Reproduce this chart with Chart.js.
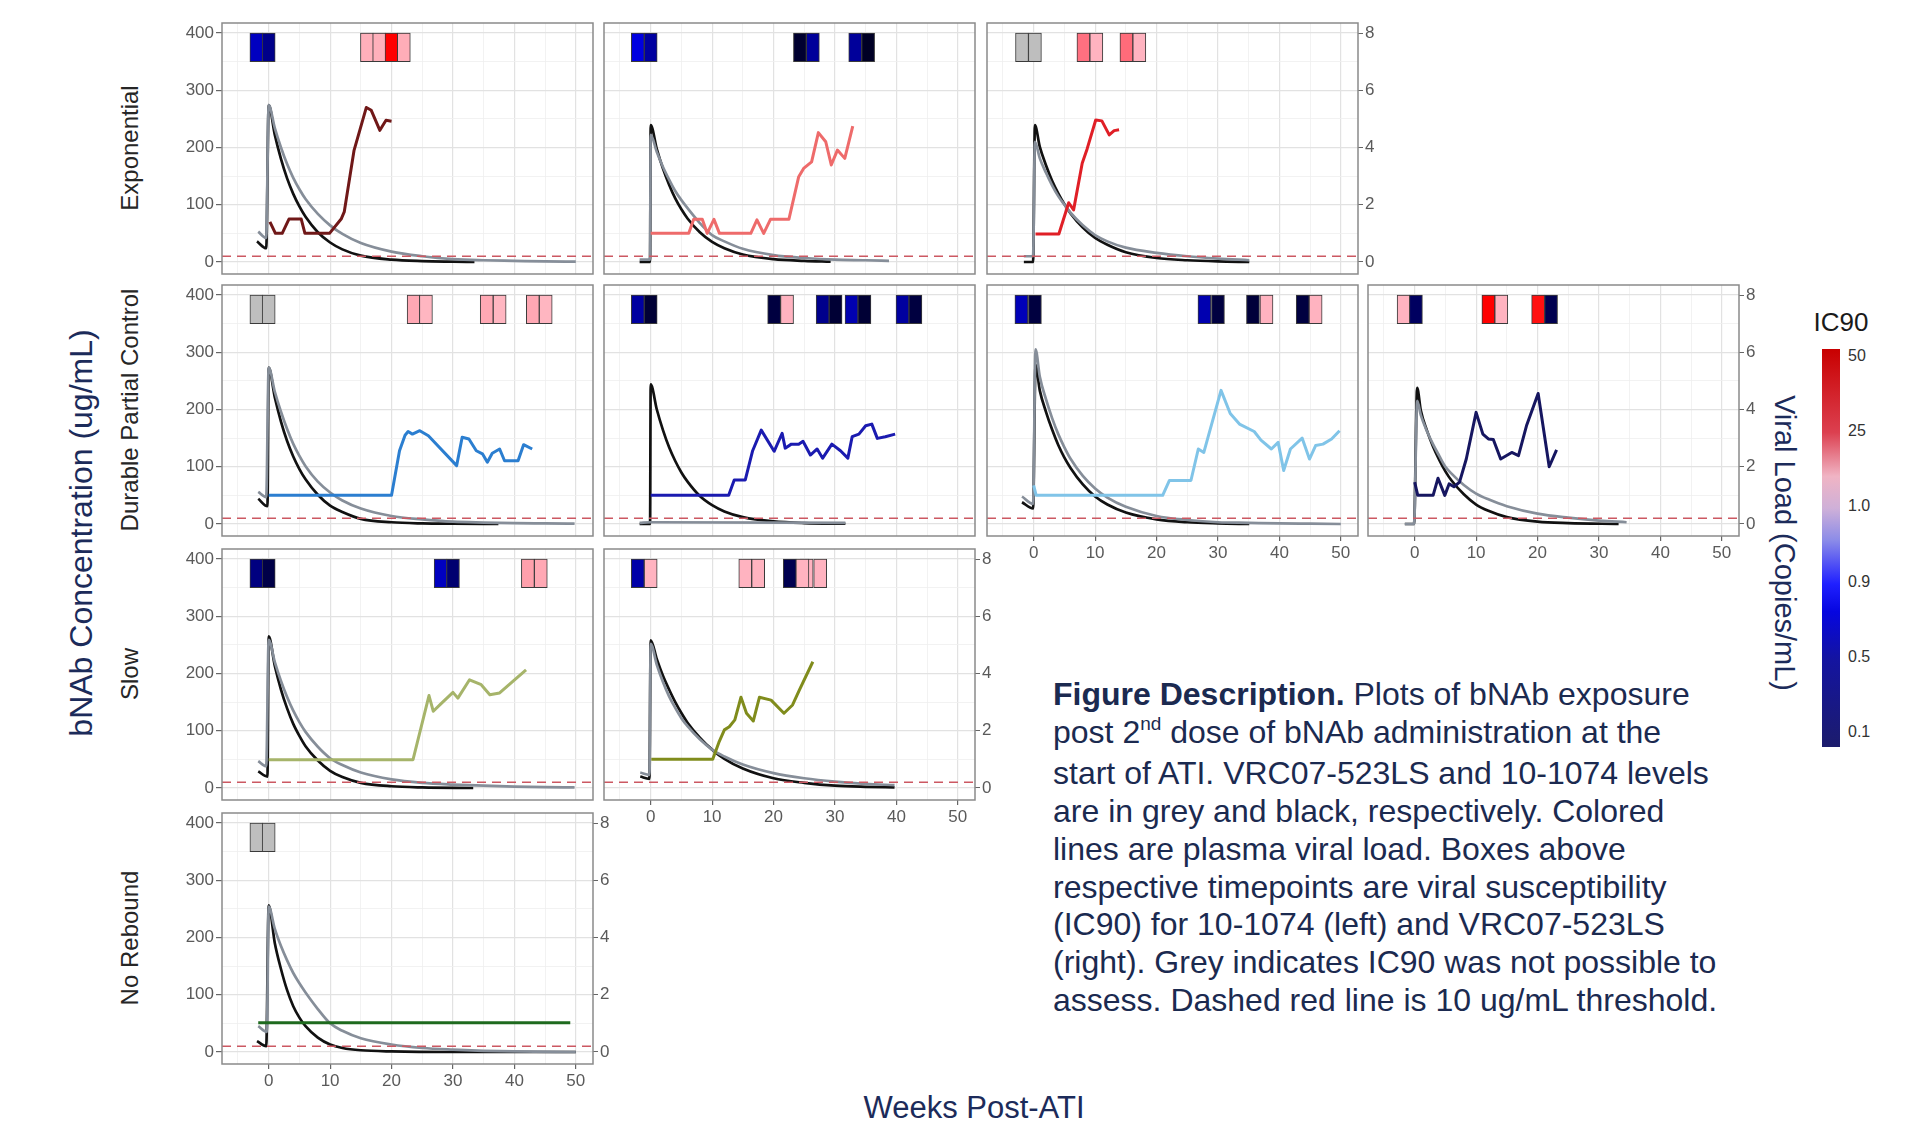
<!DOCTYPE html>
<html lang="en">
<head>
<meta charset="UTF-8">
<title>bNAb exposure and viral load after ATI</title>
<script src="https://cdn.jsdelivr.net/npm/chart.js"></script>
<style>
  body { margin: 0; background: #fff; font-family: "Liberation Sans", Arial, sans-serif; }
  #page { position: relative; width: 1918px; height: 1122px; overflow: hidden; background: #fff; }
  #page canvas { position: absolute; }
  .txt { position: absolute; white-space: nowrap; line-height: 1; }
  .rotL { transform: translate(-50%, -50%) rotate(-90deg); }
  .rotR { transform: translate(-50%, -50%) rotate(90deg); }
  .strip { font-size: 24px; color: #262626; }
  .navy { color: #1c2b5a; }
  #desc { position: absolute; left: 1053px; top: 676px; font-size: 32px; line-height: 37.7px;
          color: #1b2a50; white-space: nowrap; }
  #desc .sup { font-size: 19px; position: relative; top: -13px; }
  #ic90bar { position: absolute; left: 1822px; top: 349px; width: 18px; height: 398px;
             background: linear-gradient(to bottom, #c80000 0%, #dc4050 21%, #f0b4c4 32%, #cfb0d8 40%,
             #8c8ce8 48%, #2020ff 59%, #0606e0 66%, #1414a0 78%, #1c1c6c 100%); }
  .ic90lab { position: absolute; left: 1848px; font-size: 16px; color: #333; transform: translateY(-50%); line-height: 1; }
</style>
</head>
<body>
<div id="page">
  <div class="txt strip rotL" style="left:130px; top:148px;">Exponential</div>
  <div class="txt strip rotL" style="left:130px; top:410px;">Durable Partial Control</div>
  <div class="txt strip rotL" style="left:130px; top:674px;">Slow</div>
  <div class="txt strip rotL" style="left:130px; top:938px;">No Rebound</div>

  <div class="txt navy rotL" style="left:81px; top:533px; font-size:32px;">bNAb Concentration (ug/mL)</div>
  <div class="txt navy rotR" style="left:1784px; top:543px; font-size:29px;">Viral Load (Copies/mL)</div>
  <div class="txt navy" style="left:974px; top:1092px; font-size:31px; transform:translateX(-50%);">Weeks Post-ATI</div>

  <div class="txt" style="left:1841px; top:322px; font-size:26px; color:#1a1a1a; transform:translate(-50%,-50%);">IC90</div>
  <div id="ic90bar"></div>

  <div id="desc">
    <b>Figure Description.</b> Plots of bNAb exposure<br>
    post 2<span class="sup">nd</span> dose of bNAb administration at the<br>
    start of ATI. VRC07-523LS and 10-1074 levels<br>
    are in grey and black, respectively. Colored<br>
    lines are plasma viral load. Boxes above<br>
    respective timepoints are viral susceptibility<br>
    (IC90) for 10-1074 (left) and VRC07-523LS<br>
    (right). Grey indicates IC90 was not possible to<br>
    assess. Dashed red line is 10 ug/mL threshold.
  </div>
</div>

<script>
  // axis settings (weeks, ug/mL, log10 copies/mL)
  const xMin = -7.6, xMax = 52.8;
  const yMin = -21, yMax = 417.5;
  const vlScale = 50;            // 8 log copies on the right = 400 ug/mL on the left
  const xGridWeeks = [-5, 0, 5, 10, 15, 20, 25, 30, 35, 40, 45, 50];
  const yGridValues = [0, 50, 100, 150, 200, 250, 300, 350, 400];
  const vlTicks = [0, 2, 4, 6, 8];
  const threshold = 10;
  const boxLow = 350, boxHigh = 400;
  const ic90Labels = ['50', '25', '1.0', '0.9', '0.5', '0.1'];

  // ---- Exponential ----
  const p1Grey = [[-1.7,53],[-0.4,42],[0,274],[1,234],[2,200],[3,171],[4,147],[5,127],[6,110],[8,84],[10,64],[12,49],[15,33],[20,18],[25,10],[30,5],[35,3],[40,2],[45,1],[50,0.5]];
  const p1Black = [[-1.9,36],[-0.4,24],[0,274],[1,222],[2,180],[3,146],[4,119],[5,97],[6,79],[8,52],[10,34],[12,22],[15,11],[20,4],[25,1.5],[30,0.5],[33.5,0]];
  const p1Vl = [[0.2,1.4],[1.1,1.0],[2.2,1.0],[3.3,1.5],[5.3,1.5],[5.9,1.0],[9.9,1.0],[11.8,1.5],[12.3,1.75],[13.9,3.9],[15.9,5.4],[16.7,5.3],[18.1,4.6],[19.1,4.95],[20.0,4.92]];
  const p1BoxX = [-2, 0, 16, 18, 20, 22];
  const p1BoxColor = ['#0000c0', '#00008a', '#ffb0bb', '#ffb0bb', '#ff0000', '#ffadb8'];

  const p2Grey = [[-1.8,4],[-0.1,4],[0,222],[1,192],[2,166],[3,144],[4,124],[5,108],[6,94],[8,68],[10,47],[12,36],[15,23],[20,12],[25,7],[30,4],[35,3],[38.8,2]];
  const p2Black = [[-1.8,0],[-0.1,0],[0,239],[1,197],[2,163],[3,135],[4,111],[5,92],[6,76],[8,52],[10,35],[12,24],[15,13],[20,5],[25,2],[29.3,0.5]];
  const p2Vl = [[0,1.0],[6.2,1.0],[7.0,1.49],[8.4,1.49],[9.2,1.0],[10.3,1.49],[11.2,1.0],[16.3,1.0],[17.3,1.47],[18.4,1.0],[19.5,1.49],[22.5,1.49],[24.1,2.98],[24.9,3.27],[26.2,3.5],[27.3,4.52],[28.5,4.2],[29.4,3.39],[30.4,3.91],[31.6,3.62],[32.9,4.75]];
  const p2BoxX = [-2.1, 0, 24.3, 26.4, 33.3, 35.4];
  const p2BoxColor = ['#0000e0', '#0000a0', '#000030', '#00009a', '#00009a', '#000025'];

  const p3Grey = [[-1.6,10],[-0.1,10],[0.2,210],[1,181],[2,156],[3,134],[4,115],[5,100],[6,86],[8,64],[10,47],[12,36],[15,25],[20,16],[25,10],[30,6],[35.1,3]];
  const p3Black = [[-1.6,0],[-0.1,0],[0.2,239],[1,201],[2,169],[3,142],[4,120],[5,101],[6,85],[8,60],[10,42],[12,30],[15,17],[20,7],[25,3],[30,1],[35.1,0]];
  const p3Vl = [[0.3,0.98],[4.1,0.98],[5.7,2.07],[6.5,1.82],[7.9,3.45],[8.7,3.95],[10.1,4.96],[11.1,4.93],[12.3,4.44],[13.1,4.59],[13.9,4.62]];
  const p3BoxX = [-1.9, 0.2, 8.1, 10.2, 15.1, 17.2];
  const p3BoxColor = ['#bebebe', '#bebebe', '#ff7080', '#ffb3c0', '#ff6b7a', '#ffb3c0'];

  // ---- Durable Partial Control ----
  const p4Grey = [[-1.7,56],[-0.4,47],[0,273],[1,231],[2,196],[3,166],[4,140],[5,119],[6,101],[8,74],[10,55],[12,41],[15,27],[20,14],[25,8],[30,4],[35,2.5],[40,1.5],[45,1],[49.8,0.5]];
  const p4Black = [[-1.7,44],[-0.2,31],[0,273],[1,221],[2,179],[3,145],[4,118],[5,96],[6,78],[8,51],[10,32],[12,21],[15,9],[20,3],[25,1],[30,0.4],[37.4,0]];
  const p4Vl = [[0,1.0],[20,1.0],[21.3,2.56],[22.2,3.1],[22.7,3.23],[23.4,3.14],[24.6,3.26],[26,3.08],[30.6,2.04],[31.5,3.03],[32.6,2.97],[33.8,2.56],[34.8,2.45],[35.6,2.16],[36.4,2.47],[37.6,2.62],[38.4,2.21],[40.6,2.21],[41.5,2.77],[42.9,2.62]];
  const p4BoxX = [-2, 0, 23.6, 25.6, 35.5, 37.6, 43.0, 45.1];
  const p4BoxColor = ['#bebebe', '#bebebe', '#ffa8b4', '#ffb6c1', '#ffa8b4', '#ffb6c1', '#ffa8b4', '#ffb6c1'];

  const p5Grey = [[-1.8,2],[0,3],[31.7,2]];
  const p5Black = [[-1.8,0],[-0.1,0],[0,244],[1,200],[2,164],[3,134],[4,110],[5,90],[6,74],[8,49],[10,33],[12,22],[15,12],[20,4.5],[25,1.6],[31.7,0.4]];
  const p5Vl = [[0,1.0],[12.7,1.0],[13.6,1.54],[15.4,1.54],[16.6,2.56],[18.0,3.28],[20.1,2.54],[21.4,3.17],[21.9,2.65],[22.9,2.79],[24.1,2.79],[24.8,2.89],[26.0,2.41],[27.1,2.62],[28.0,2.3],[29.5,2.79],[30.9,2.56],[32.1,2.3],[32.8,3.05],[33.9,3.14],[35.0,3.43],[36.0,3.49],[36.9,2.99],[38.2,3.05],[39.8,3.14]];
  const p5BoxX = [-2.1, 0, 20.1, 22.2, 28.0, 30.1, 32.7, 34.8, 41.0, 43.1];
  const p5BoxColor = ['#0000a0', '#000035', '#000040', '#ffb3c0', '#00008c', '#000035', '#0000b0', '#000035', '#0000a0', '#000040'];

  const p6Grey = [[-1.9,48],[-0.1,35],[0.3,305],[1,257],[2,218],[3,185],[4,157],[5,134],[6,114],[8,84],[10,62],[12,46],[15,30],[20,14],[25,7],[30,3],[35,2],[40,1],[45,0.5],[50,0]];
  const p6Black = [[-1.9,38],[-0.1,27],[0.3,278],[1,233],[2,196],[3,165],[4,138],[5,116],[6,98],[8,69],[10,48],[12,34],[15,20],[20,8],[25,3],[30,1],[35.1,0]];
  const p6Vl = [[0,1.35],[0.4,1.0],[21.0,1.0],[22.1,1.52],[25.6,1.52],[26.8,2.62],[27.7,2.5],[30.5,4.67],[32,3.86],[33.5,3.49],[35.9,3.23],[37.0,2.93],[38.7,2.62],[39.8,2.85],[40.7,1.87],[41.8,2.62],[43.7,3.0],[44.9,2.27],[45.9,2.74],[47.1,2.79],[48.5,2.97],[49.8,3.26]];
  const p6BoxX = [-2.0, 0.2, 27.8, 30.0, 35.7, 37.9, 43.8, 45.9];
  const p6BoxColor = ['#0000b8', '#000040', '#0000b0', '#000040', '#00003a', '#ffb3c0', '#000040', '#ffb3c0'];

  const p7Grey = [[-1.6,0],[-0.1,0],[0.4,215],[1,190],[2,162],[3,139],[4,119],[5,100],[6,88],[8,68],[10,53],[12,43],[15,31],[20,18],[25,11],[30,6],[34.5,3]];
  const p7Black = [[-1.6,0],[-0.1,0],[0.4,238],[1,198],[2,163],[3,135],[4,112],[5,92],[6,76],[8,52],[10,34],[12,23],[15,12],[20,4],[25,1.5],[33.2,0]];
  const p7Vl = [[0,1.46],[0.5,1.0],[3.0,1.0],[3.8,1.6],[4.9,1.0],[5.6,1.4],[6.4,1.3],[7.3,1.46],[8.4,2.27],[10,3.9],[11.1,3.14],[12,2.97],[12.8,2.95],[14,2.27],[15.8,2.5],[16.9,2.39],[18.2,3.43],[20.1,4.56],[21.9,2.0],[23.1,2.59]];
  const p7BoxX = [-1.8, 0.2, 12.0, 14.1, 20.1, 22.2];
  const p7BoxColor = ['#ffb3c0', '#000060', '#ff0000', '#ffb3c0', '#ff1010', '#000050'];

  // ---- Slow ----
  const p8Grey = [[-1.7,47],[-0.4,38],[0,259],[1,220],[2,187],[3,159],[4,135],[5,115],[6,98],[8,72],[10,52],[12,40],[15,27],[20,15],[25,9],[30,6],[35,4],[40,2.5],[45,1.5],[49.8,1]];
  const p8Black = [[-1.7,29],[-0.2,20],[0,265],[1,213],[2,172],[3,139],[4,112],[5,91],[6,73],[8,48],[10,30],[12,19],[15,9],[20,3],[25,1],[33.3,0]];
  const p8Vl = [[0,0.99],[23.5,0.99],[26.1,3.23],[26.8,2.68],[27.9,2.91],[30.0,3.34],[30.8,3.14],[32.7,3.78],[34.6,3.61],[36.0,3.26],[37.6,3.32],[41.9,4.13]];
  const p8BoxX = [-2, 0, 28.0, 30.0, 42.2, 44.3];
  const p8BoxColor = ['#000080', '#000048', '#0000c0', '#000070', '#ffa0ac', '#ffa8b4'];

  const p9Grey = [[-1.7,27],[-0.2,23],[0,252],[1,215],[2,185],[3,160],[4,140],[5,122],[6,108],[8,85],[10,67],[12,55],[15,41],[20,26],[25,17],[30,11],[35,7],[39.7,5]];
  const p9Black = [[-1.7,20],[-0.2,16],[0,258],[1,225],[2,196],[3,172],[4,150],[5,131],[6,114],[8,88],[10,67],[12,51],[15,34],[20,17],[25,9],[30,4],[35,2],[39.7,1]];
  const p9Vl = [[0.1,1.0],[10.1,1.0],[11.1,1.59],[12,2.03],[12.8,2.14],[13.7,2.38],[14.7,3.17],[15.6,2.61],[16.7,2.34],[17.7,3.17],[19.6,3.07],[21.7,2.61],[23.1,2.9],[24.2,3.42],[26.4,4.41]];
  const p9BoxX = [-2.1, 0, 15.4, 17.5, 25.4, 27.6, 22.65, 24.7];
  const p9BoxColor = ['#0000a8', '#ffb3c0', '#ffb3c0', '#ffb3c0', '#ffb3c0', '#ffb3c0', '#000050', '#ffb3c0'];

  // ---- No Rebound ----
  const p10Grey = [[-1.7,45],[-0.3,35],[0,254],[1,215],[2,185],[3,160],[4,138],[5,120],[6,104],[8,75],[10,50],[12,37],[15,24],[20,13],[25,7],[30,4],[35,2],[40,1],[50,0]];
  const p10Black = [[-1.9,19],[-0.4,10],[0,256],[1,190],[2,145],[3,108],[4,80],[5,60],[6,45],[8,25],[10,13],[12,7],[15,3],[20,1],[30,0],[50,0]];
  const p10Vl = [[-1.7,1.02],[49.1,1.02]];
  const p10BoxX = [-2, 0];
  const p10BoxColor = ['#bebebe', '#bebebe'];

  // panel grid
  const colLeft = [222, 604, 987, 1368];
  const rowTop = [23, 285, 549, 813];
  const panelW = 371, panelH = 251;
  const padL = 50, padR = 35, padB = 32, padT = 4;

  const panels = [
    { col: 0, row: 0, grey: p1Grey, black: p1Black, vl: p1Vl, vlColor: '#701818', boxX: p1BoxX, boxColor: p1BoxColor, left: true },
    { col: 1, row: 0, grey: p2Grey, black: p2Black, vl: p2Vl, vlColor: '#ee6b6b', boxX: p2BoxX, boxColor: p2BoxColor },
    { col: 2, row: 0, grey: p3Grey, black: p3Black, vl: p3Vl, vlColor: '#e01f26', boxX: p3BoxX, boxColor: p3BoxColor, right: true },
    { col: 0, row: 1, grey: p4Grey, black: p4Black, vl: p4Vl, vlColor: '#2b7ed0', boxX: p4BoxX, boxColor: p4BoxColor, left: true },
    { col: 1, row: 1, grey: p5Grey, black: p5Black, vl: p5Vl, vlColor: '#1b1bb0', boxX: p5BoxX, boxColor: p5BoxColor },
    { col: 2, row: 1, grey: p6Grey, black: p6Black, vl: p6Vl, vlColor: '#80c4e8', boxX: p6BoxX, boxColor: p6BoxColor, bottom: true },
    { col: 3, row: 1, grey: p7Grey, black: p7Black, vl: p7Vl, vlColor: '#161660', boxX: p7BoxX, boxColor: p7BoxColor, bottom: true, right: true },
    { col: 0, row: 2, grey: p8Grey, black: p8Black, vl: p8Vl, vlColor: '#a6b46a', boxX: p8BoxX, boxColor: p8BoxColor, left: true },
    { col: 1, row: 2, grey: p9Grey, black: p9Black, vl: p9Vl, vlColor: '#808c1c', boxX: p9BoxX, boxColor: p9BoxColor, bottom: true, right: true },
    { col: 0, row: 3, grey: p10Grey, black: p10Black, vl: p10Vl, vlColor: '#1e6a1e', boxX: p10BoxX, boxColor: p10BoxColor, left: true, bottom: true, right: true }
  ];

  const tickFont = { family: 'Liberation Sans', size: 17 };
  const tickColor = '#5a5a5a';
  const majorGrid = '#e2e2e2', minorGrid = '#efefef';

  const toXY = arr => arr.map(([x, y]) => ({ x, y }));

  // draw the grey frame of each panel on top of the data
  const panelBorder = {
    id: 'panelBorder',
    afterDatasetsDraw(chart) {
      const { ctx, chartArea: a } = chart;
      ctx.save();
      ctx.strokeStyle = '#8a8a8a';
      ctx.lineWidth = 1.5;
      ctx.strokeRect(a.left, a.top, a.width, a.height);
      ctx.restore();
    }
  };

  const page = document.getElementById('page');

  panels.forEach(p => {
    const canvas = document.createElement('canvas');
    canvas.width = padL + panelW + padR;
    canvas.height = padT + panelH + padB;
    canvas.style.left = (colLeft[p.col] - padL) + 'px';
    canvas.style.top = (rowTop[p.row] - padT) + 'px';
    page.appendChild(canvas);

    new Chart(canvas, {
      type: 'line',
      data: {
        datasets: [
          {
            type: 'bar',
            data: p.boxX.map(x => ({ x, y: [boxLow, boxHigh] })),
            backgroundColor: p.boxColor,
            borderColor: '#3a3a3a',
            borderWidth: 1,
            borderSkipped: false,
            barThickness: 13,
            yAxisID: 'y',
            order: 0
          },
          {
            data: [{ x: xMin, y: threshold }, { x: xMax, y: threshold }],
            borderColor: '#cc5862',
            borderWidth: 1.7,
            borderDash: [9, 6],
            pointRadius: 0,
            yAxisID: 'y',
            order: 1
          },
          {
            data: toXY(p.vl),
            borderColor: p.vlColor,
            borderWidth: 3,
            pointRadius: 0,
            borderJoinStyle: 'round',
            yAxisID: 'y2',
            order: 2
          },
          {
            data: toXY(p.grey),
            borderColor: '#868e99',
            borderWidth: 2.7,
            pointRadius: 0,
            cubicInterpolationMode: 'monotone',
            yAxisID: 'y',
            order: 3
          },
          {
            data: toXY(p.black),
            borderColor: '#111111',
            borderWidth: 2.7,
            pointRadius: 0,
            cubicInterpolationMode: 'monotone',
            yAxisID: 'y',
            order: 4
          }
        ]
      },
      options: {
        responsive: false,
        animation: false,
        events: [],
        layout: { padding: { top: padT, left: 0, right: 0, bottom: 0 } },
        plugins: { legend: { display: false }, tooltip: { enabled: false } },
        scales: {
          x: {
            type: 'linear', min: xMin, max: xMax, offset: false,
            afterBuildTicks: a => { a.ticks = xGridWeeks.map(v => ({ value: v })); },
            afterFit: a => { a.height = padB; a.paddingLeft = 0; a.paddingRight = 0; },
            border: { display: false },
            grid: {
              offset: false,
              color: c => (c.tick && c.tick.value % 10 === 0) ? majorGrid : minorGrid,
              lineWidth: c => (c.tick && c.tick.value % 10 === 0) ? 1.2 : 0.8,
              drawTicks: !!p.bottom, tickLength: 5,
              tickColor: c => (c.tick && c.tick.value % 10 === 0) ? '#666' : 'transparent'
            },
            ticks: {
              display: !!p.bottom, autoSkip: false, maxRotation: 0, padding: 2,
              color: tickColor, font: tickFont,
              callback: v => (v % 10 === 0 ? String(v) : '')
            }
          },
          y: {
            type: 'linear', position: 'left', min: yMin, max: yMax,
            afterBuildTicks: a => { a.ticks = yGridValues.map(v => ({ value: v })); },
            afterFit: a => { a.width = padL; a.paddingTop = 0; a.paddingBottom = 0; },
            border: { display: false },
            grid: {
              color: c => (c.tick && c.tick.value % 100 === 0) ? majorGrid : minorGrid,
              lineWidth: c => (c.tick && c.tick.value % 100 === 0) ? 1.2 : 0.8,
              drawTicks: !!p.left, tickLength: 6,
              tickColor: c => (c.tick && c.tick.value % 100 === 0) ? '#666' : 'transparent'
            },
            ticks: {
              display: !!p.left, autoSkip: false, padding: 2,
              color: tickColor, font: tickFont,
              callback: v => (v % 100 === 0 ? String(v) : '')
            }
          },
          y2: {
            type: 'linear', position: 'right', min: yMin / vlScale, max: yMax / vlScale,
            afterBuildTicks: a => { a.ticks = vlTicks.map(v => ({ value: v })); },
            afterFit: a => { a.width = padR; a.paddingTop = 0; a.paddingBottom = 0; },
            border: { display: false },
            grid: { drawOnChartArea: false, drawTicks: !!p.right, tickLength: 5, tickColor: '#666' },
            ticks: {
              display: !!p.right, autoSkip: false, padding: 2,
              color: tickColor, font: tickFont,
              callback: v => String(v)
            }
          }
        }
      },
      plugins: [panelBorder]
    });
  });

  // IC90 colour bar labels
  ic90Labels.forEach((lab, i) => {
    const d = document.createElement('div');
    d.className = 'ic90lab';
    d.style.top = (356 + i * 75.2) + 'px';
    d.textContent = lab;
    page.appendChild(d);
  });
</script>
</body>
</html>
